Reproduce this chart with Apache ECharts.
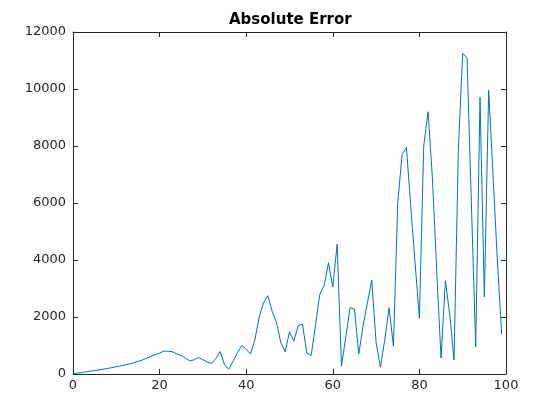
<!DOCTYPE html>
<html>
<head>
<meta charset="utf-8">
<script src="https://cdn.jsdelivr.net/npm/echarts@6/dist/echarts.min.js"></script>
<style>html,body{margin:0;padding:0;background:#fff}#c{width:560px;height:420px}</style>
</head>
<body>
<div id="c"></div>
<script>
var titleText = "Absolute Error";
var xValues = [];
for (var k = 0; k < 100; k++) xValues.push(k);
var errorValues = [
  10, 30, 50, 75, 100, 120, 145, 170, 195, 225,
  255, 285, 320, 355, 395, 440, 490, 550, 620, 680,
  740, 800, 800, 780, 700, 650, 550, 460, 500, 580,
  500, 420, 370, 550, 790, 320, 170, 460, 750, 1000,
  870, 700, 1200, 2000, 2500, 2750, 2200, 1800, 1100, 780,
  1480, 1150, 1700, 1750, 730, 650, 1700, 2800, 3100, 3900,
  3050, 4550, 280, 1300, 2330, 2280, 700, 1700, 2500, 3300,
  1100, 240, 1200, 2330, 980, 6000, 7700, 7950, 5900, 3900,
  1950, 8000, 9200, 6900, 3600, 560, 3270, 2100, 490, 7900,
  11250, 11100, 6000, 960, 9700, 2700, 9950, 7000, 4000, 1400
];
var xTicks = [0, 20, 40, 60, 80, 100];
var yTicks = [0, 2000, 4000, 6000, 8000, 10000, 12000];

var data = xValues.map(function (x, i) { return [x, errorValues[i]]; });
var axisColor = '#262626';
var font = 'DejaVu Sans';
function plain(v) { return String(v); }
function xa(pos, show) {
  return {
    type: 'value', position: pos, min: xTicks[0], max: xTicks[xTicks.length - 1],
    interval: xTicks[1] - xTicks[0],
    axisLine: { show: true, onZero: false, lineStyle: { color: axisColor, width: 1 } },
    axisTick: { show: true, inside: true, length: 5, lineStyle: { color: axisColor } },
    axisLabel: { show: show, color: axisColor, fontFamily: font, fontSize: 13, margin: 5, formatter: plain },
    splitLine: { show: false }
  };
}
function ya(pos, show) {
  return {
    type: 'value', position: pos, min: yTicks[0], max: yTicks[yTicks.length - 1],
    interval: yTicks[1] - yTicks[0],
    axisLine: { show: true, onZero: false, lineStyle: { color: axisColor, width: 1 } },
    axisTick: { show: true, inside: true, length: 5, lineStyle: { color: axisColor } },
    axisLabel: { show: show, color: axisColor, fontFamily: font, fontSize: 13, margin: 7, formatter: plain },
    splitLine: { show: false }
  };
}
var chart = echarts.init(document.getElementById('c'), null, { renderer: 'canvas' });
chart.setOption({
  animation: false,
  backgroundColor: '#ffffff',
  title: {
    text: titleText, left: 224, top: 8,
    textStyle: { fontFamily: font, fontSize: 15, fontWeight: 'bold', color: '#000' }
  },
  grid: { left: 73, right: 54, top: 32, bottom: 46, containLabel: false },
  xAxis: [xa('bottom', true), xa('top', false)],
  yAxis: [ya('left', true), ya('right', false)],
  series: [{
    type: 'line', data: data, xAxisIndex: 0, yAxisIndex: 0,
    showSymbol: false, symbol: 'none',
    lineStyle: { color: '#0072BD', width: 1 }
  }]
});
</script>
</body>
</html>
